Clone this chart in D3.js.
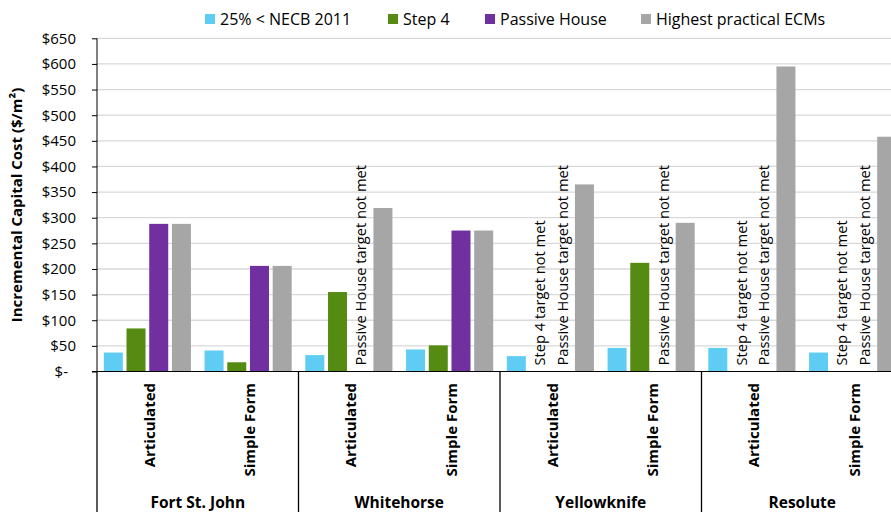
<!DOCTYPE html>
<meta charset="utf-8">
<style>
    body { margin: 0; background: #fff; }
    text { font-family: "Open Sans", sans-serif; fill: #000; }
    .grid line { stroke: #d9d9d9; stroke-width: 1.3; }
    .axis path, .axis line { stroke: #000; }
</style>
<svg width="891" height="512"></svg>
<script src="https://d3js.org/d3.v7.min.js"></script>
<script>

    var cities = ["Fort St. John", "Whitehorse", "Yellowknife", "Resolute"];
    var forms = ["Articulated", "Simple Form"];
    var seriesNames = ["25% < NECB 2011", "Step 4", "Passive House", "Highest practical ECMs"];
    var seriesColors = ["#5fcdf3", "#568b13", "#7030a0", "#a6a6a6"];
    var notMetLabels = [null, "Step 4 target not met", "Passive House target not met", null];
    var yTicks = [0, 50, 100, 150, 200, 250, 300, 350, 400, 450, 500, 550, 600, 650];

    // order: FSJ Art, FSJ Simple, WH Art, WH Simple, YK Art, YK Simple, Res Art, Res Simple
    var necb    = [37, 41, 32, 43, 30, 46, 46, 37];
    var step4   = [84, 18, 155, 51, null, 212, null, null];
    var passive = [288, 206, null, 275, null, null, null, null];
    var ecms    = [288, 206, 319, 275, 365, 290, 595, 458];
    var allSeries = [necb, step4, passive, ecms];

    var svg = d3.select("svg");
    var plotLeft = 97, plotRight = 903, plotTop = 38.3, plotBottom = 371.5;

    var x0 = d3.scaleBand().domain(cities).range([plotLeft, plotRight]);
    var x1 = d3.scaleBand().domain(forms).range([0, x0.bandwidth()]);
    var x2 = d3.scaleBand().domain(d3.range(4)).range([0, x1.bandwidth()])
        .paddingInner(0.163).paddingOuter(0.3);
    var y = d3.scaleLinear().domain([0, 650]).range([plotBottom, plotTop]);

    // gridlines
    svg.append("g").attr("class", "grid")
        .selectAll("line").data(yTicks.slice(1)).enter().append("line")
        .attr("x1", plotLeft).attr("x2", plotRight)
        .attr("y1", function (d) { return y(d); })
        .attr("y2", function (d) { return y(d); });

    var rows = [];
    cities.forEach(function (c, ci) {
        forms.forEach(function (f, fi) {
            var idx = ci * 2 + fi;
            allSeries.forEach(function (s, si) {
                rows.push({city: c, form: f, s: si, v: s[idx]});
            });
        });
    });

    function bx(d) { return x0(d.city) + x1(d.form) + x2(d.s); }

    svg.append("g").selectAll("rect")
        .data(rows.filter(function (d) { return d.v != null; }))
        .enter().append("rect")
        .attr("x", bx)
        .attr("width", x2.bandwidth())
        .attr("y", function (d) { return y(d.v); })
        .attr("height", function (d) { return y(0) - y(d.v); })
        .attr("fill", function (d) { return seriesColors[d.s]; });

    // "target not met" notes
    svg.append("g").selectAll("text")
        .data(rows.filter(function (d) { return d.v == null; }))
        .enter().append("text")
        .attr("transform", function (d) {
            return "translate(" + (bx(d) + x2.bandwidth() / 2 + 1) + "," + (plotBottom - 6) + ") rotate(-90)";
        })
        .attr("dy", "0.35em")
        .style("font-size", "14.7px")
        .text(function (d) { return notMetLabels[d.s]; });

    // y axis
    var yAxis = svg.append("g").attr("class", "axis")
        .attr("transform", "translate(" + plotLeft + ",0)")
        .call(d3.axisLeft(y).tickValues(yTicks).tickSize(5).tickPadding(16)
            .tickFormat(function (d) { return d === 0 ? "$-" : "$" + d; }));
    yAxis.select(".domain").attr("d", "M0," + plotTop + "V" + plotBottom);
    yAxis.selectAll("text").style("font-size", "15px").style("font-family", "'Open Sans', sans-serif");
    yAxis.selectAll(".tick").filter(function (d) { return d === 0; })
        .select("text").attr("x", -29);

    // x axis line and separators
    svg.append("line").attr("x1", plotLeft - 5).attr("x2", plotRight)
        .attr("y1", plotBottom).attr("y2", plotBottom).attr("stroke", "#000");
    svg.append("g").selectAll("line")
        .data(cities.concat(["end"]))
        .enter().append("line")
        .attr("x1", function (d, i) { return i < cities.length ? x0(d) : plotRight; })
        .attr("x2", function (d, i) { return i < cities.length ? x0(d) : plotRight; })
        .attr("y1", plotBottom).attr("y2", 512)
        .attr("stroke", "#000").attr("stroke-width", 1.3);

    // form labels
    cities.forEach(function (c) {
        forms.forEach(function (f) {
            svg.append("text")
                .attr("transform", "translate(" + (x0(c) + x1(f) + x1.bandwidth() / 2 + 2) + "," + 383 + ") rotate(-90)")
                .attr("dy", "0.35em")
                .attr("text-anchor", "end")
                .style("font-size", "15px")
                .style("font-weight", "bold")
                .text(f);
        });
        svg.append("text")
            .attr("x", x0(c) + x0.bandwidth() / 2)
            .attr("y", 508)
            .attr("text-anchor", "middle")
            .style("font-size", "15.5px")
            .style("font-weight", "bold")
            .text(c);
    });

    // y title
    svg.append("text")
        .attr("transform", "translate(17,205) rotate(-90)")
        .attr("dy", "0.35em")
        .attr("text-anchor", "middle")
        .style("font-size", "15px")
        .style("font-weight", "bold")
        .text("Incremental Capital Cost ($/m²)");

    // legend
    var legendX = [205, 388, 485, 641];
    var legend = svg.append("g").selectAll("g")
        .data(seriesNames).enter().append("g")
        .attr("transform", function (d, i) { return "translate(" + legendX[i] + ",14)"; });
    legend.append("rect").attr("width", 10).attr("height", 10)
        .attr("fill", function (d, i) { return seriesColors[i]; });
    legend.append("text").attr("x", 15).attr("y", 5).attr("dy", "0.35em")
        .style("font-size", "16px")
        .text(function (d) { return d; });

</script>
